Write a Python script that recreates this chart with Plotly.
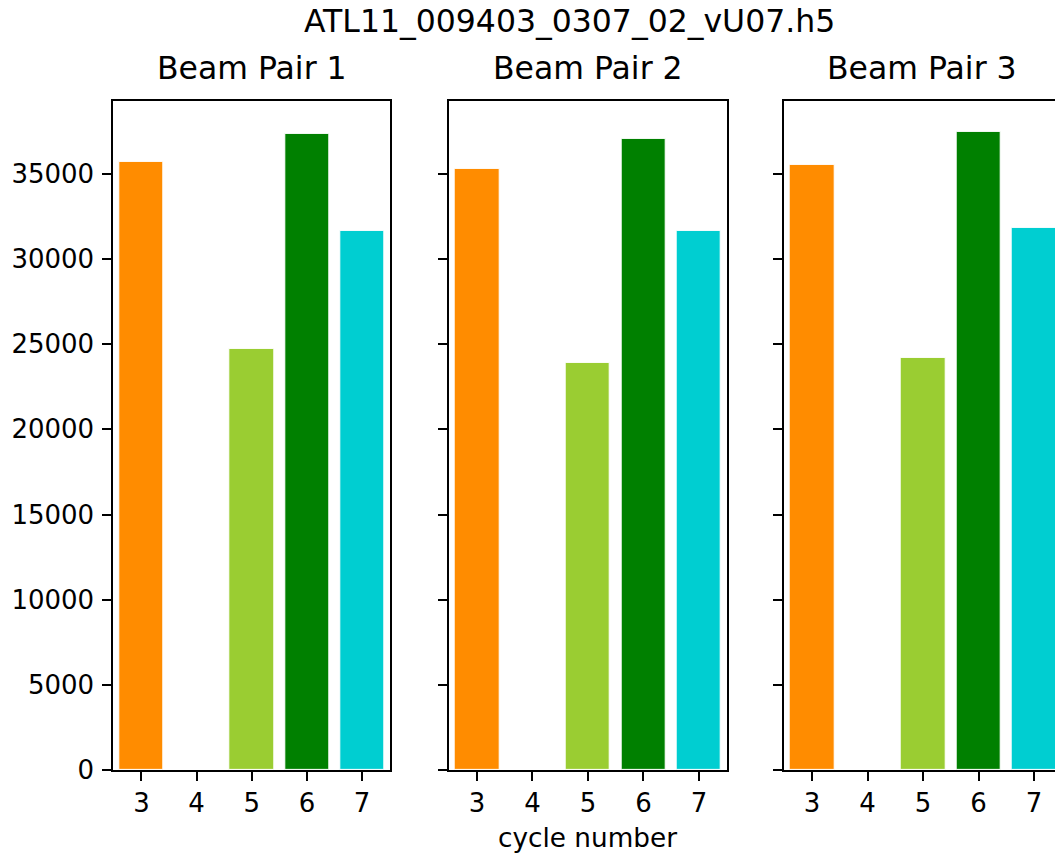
import plotly.graph_objects as go

# ---- data ----
cycles = [3, 4, 5, 6, 7]
cycle_colors = ["#FF8C00", "#1f77b4", "#9ACD32", "#008000", "#00CED1"]
beam_pair_1 = [35700, None, 24720, 37300, 31660]
beam_pair_2 = [35260, None, 23920, 37050, 31660]
beam_pair_3 = [35490, None, 24210, 37450, 31800]
panel_titles = ["Beam Pair 1", "Beam Pair 2", "Beam Pair 3"]
suptitle = "ATL11_009403_0307_02_vU07.h5"
xlabel = "cycle number"
y_ticks = [0, 5000, 10000, 15000, 20000, 25000, 30000, 35000]
y_tick_labels = ["0", "5000", "10000", "15000", "20000", "25000", "30000", "35000"]

W, H = 1055, 854
HE = 840.0  # effective rendered height used for positioning
FONT = "DejaVu Sans"

fig = go.Figure()

panels = [beam_pair_1, beam_pair_2, beam_pair_3]
x_px = [(113.3, 389.7), (448.7, 726.7), (783.7, 1055.0)]
x_ranges = [[2.49, 7.50], [2.49, 7.50], [2.49, 7.378]]
top_px, bot_px = 101.0, 771.2
ydom = [(HE - bot_px) / HE, (HE - top_px) / HE]

for i, vals in enumerate(panels):
    n = "" if i == 0 else str(i + 1)
    fig.add_trace(go.Bar(
        x=cycles, y=vals, width=0.8,
        marker=dict(color=cycle_colors, line=dict(color="white", width=1)),
        xaxis="x" + n, yaxis="y" + n, showlegend=False,
    ))
    xd = [x_px[i][0] / W, x_px[i][1] / W]
    fig.layout["xaxis" + n] = dict(
        domain=xd, range=x_ranges[i], anchor="y" + n,
        tickmode="array", tickvals=cycles, ticktext=[str(c) for c in cycles],
        showline=True, mirror=True, linecolor="black", linewidth=2,
        ticks="outside", ticklen=9, tickwidth=2, tickcolor="black",
        showgrid=False, zeroline=False,
        tickfont=dict(family=FONT, size=26, color="black"),
    )
    fig.layout["yaxis" + n] = dict(
        domain=ydom, range=[0, 39260], anchor="x" + n,
        tickmode="array", tickvals=y_ticks, ticktext=y_tick_labels,
        showticklabels=(i == 0), ticklabelstandoff=3,
        showline=True, mirror=(i < 2), linecolor="black", linewidth=2,
        ticks="outside", ticklen=9, tickwidth=2, tickcolor="black",
        showgrid=False, zeroline=False,
        tickfont=dict(family=FONT, size=26, color="black"),
    )

annotations = [
    dict(text=suptitle, x=569 / W, y=1 - 22 / HE, xref="paper", yref="paper",
         xanchor="center", yanchor="middle", showarrow=False,
         font=dict(family=FONT, size=31.5, color="black")),
    dict(text=xlabel, x=587.7 / W, y=1 - 839 / HE, xref="paper", yref="paper",
         xanchor="center", yanchor="middle", showarrow=False,
         font=dict(family=FONT, size=26.3, color="black")),
]
centers = [251.5, 587.7, 922.3]
for i, t in enumerate(panel_titles):
    annotations.append(dict(text=t, x=centers[i] / W, y=1 - 68.5 / HE, xref="paper", yref="paper",
                            xanchor="center", yanchor="middle", showarrow=False,
                            font=dict(family=FONT, size=31.5, color="black")))

fig.update_layout(
    width=W, height=H, autosize=False,
    margin=dict(l=0, r=0, t=0, b=0),
    paper_bgcolor="white", plot_bgcolor="white",
    annotations=annotations, bargap=0,
    font=dict(family=FONT, color="black"),
)

fig.write_html("out.html")
